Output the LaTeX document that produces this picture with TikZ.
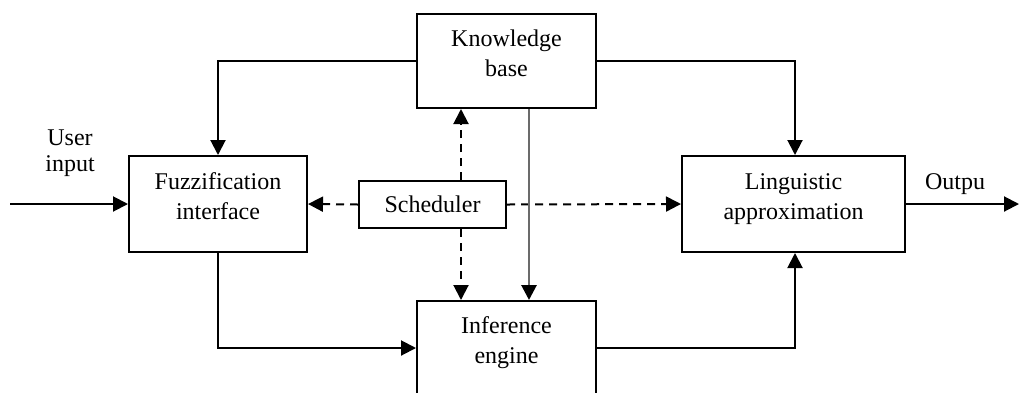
\documentclass[tikz,border=0pt]{standalone}
\usepackage{fontspec}
\setmainfont{Liberation Serif}
\usetikzlibrary{arrows.meta}

\newcommand{\boxtext}[1]{\raisebox{6pt}[\height][\depth]{\begin{tabular}{@{}c@{}}#1\end{tabular}}}

\tikzset{
	blk/.style={draw, line width=2pt, align=center, inner sep=0pt},
	lbl/.style={align=center, inner sep=0pt},
	flow/.style={line width=2pt, -{Triangle[length=15pt,width=15pt]}},
	ctrl/.style={flow, dash pattern=on 8pt off 6pt},
	feed/.style={line width=2.8pt, black!58, -{Triangle[length=15pt,width=15pt,color=black]}}
}

\begin{document}
\begin{tikzpicture}[x=1pt, y=-1pt, font=\fontsize{24}{30}\selectfont]
				\useasboundingbox (0,0) rectangle (1019,392);
				\node[blk, minimum width=179pt, minimum height=94pt] (kb) at (506.5,61) {\boxtext{Knowledge\\base}};
				\node[blk, minimum width=178pt, minimum height=96pt] (fuzz) at (218,204) {\boxtext{Fuzzification\\interface}};
				\node[blk, minimum width=147pt, minimum height=47pt] (sched) at (432.5,204.5) {Scheduler};
				\node[blk, minimum width=223pt, minimum height=96pt] (ling) at (793.5,204) {\boxtext{Linguistic\\approximation}};
				\node[blk, minimum width=179pt, minimum height=94pt] (inf) at (506.5,348) {\boxtext{Inference\\engine}};
				\node[lbl, font=\fontsize{24}{26}\selectfont] (uin) at (70,153) {User\\input};
				\node[lbl] (outp) at (955,184) {Outpu};
				\coordinate (src) at (10,204);
				\coordinate (snk) at (1019,204);

				\draw[flow] (kb.west) -| (fuzz.north);
				\draw[flow] (kb.east) -| ([xshift=1.5pt]ling.north);
				\draw[flow] (src) -- (fuzz.west);
				\draw[flow] (fuzz.south) |- (inf.west);
				\draw[flow] (inf.east) -| ([xshift=1.5pt]ling.south);
				\draw[flow] (ling.east) -- (snk);
				% scheduler links
				\draw[ctrl] (sched.west) -- (fuzz.east);
				\draw[ctrl] (sched.east) -- (ling.west);
				\draw[ctrl] ([xshift=28.5pt]sched.north) -- ([xshift=28.5pt]sched.north |- kb.south);
				\draw[ctrl] ([xshift=28.5pt]sched.south) -- ([xshift=28.5pt]sched.south |- inf.north);
				\draw[feed] ([xshift=22.5pt]kb.south) -- ([xshift=22.5pt]inf.north);

			\end{tikzpicture}
\end{document}
